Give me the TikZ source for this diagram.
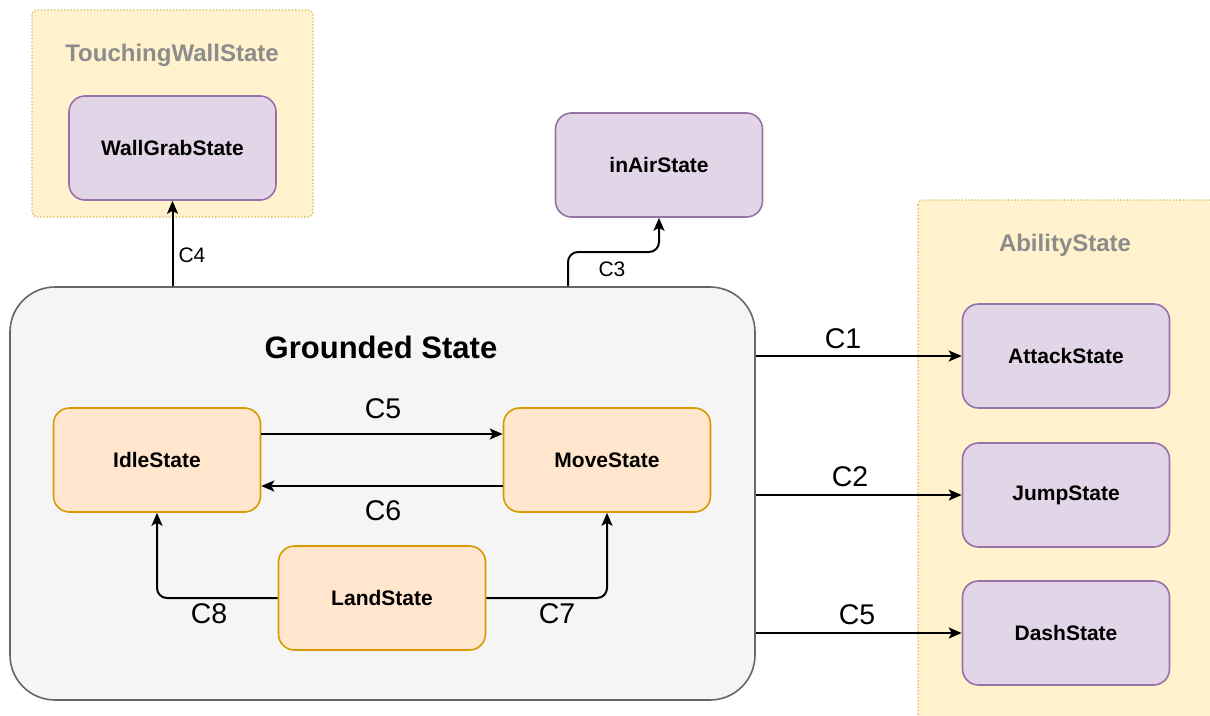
\documentclass[tikz,border=0pt]{standalone}
\usepackage{fontspec}
\setmainfont{Liberation Sans}
\usetikzlibrary{arrows.meta}
\definecolor{contfill}{HTML}{FFF2CC}
\definecolor{contdraw}{HTML}{D6B656}
\definecolor{purfill}{HTML}{E1D5E7}
\definecolor{purdraw}{HTML}{9673A6}
\definecolor{orfill}{HTML}{FFE6CC}
\definecolor{ordraw}{HTML}{D79B00}
\definecolor{grfill}{HTML}{F5F5F5}
\definecolor{grdraw}{HTML}{666666}
\definecolor{conttext}{HTML}{8C8C8C}
\tikzset{
  container/.style={draw=contdraw, fill=contfill, dotted, line width=1.3pt, rounded corners=5pt},
  contlabel/.style={text=conttext, font=\fontsize{24}{27}\selectfont\bfseries, inner sep=0pt},
  purbox/.style={draw=purdraw, fill=purfill, line width=1.6pt, rounded corners=16pt, minimum width=207pt, minimum height=104pt, inner sep=0pt, font=\fontsize{21}{24}\selectfont\bfseries},
  orbox/.style={draw=ordraw, fill=orfill, line width=1.6pt, rounded corners=16pt, minimum width=207pt, minimum height=104pt, inner sep=0pt, font=\fontsize{21}{24}\selectfont\bfseries},
  groundbox/.style={draw=grdraw, fill=grfill, line width=1.6pt, rounded corners=45pt, minimum width=745pt, minimum height=413pt, inner sep=0pt},
  arr/.style={-{Stealth[length=13pt,width=11pt,inset=3pt]}, line width=2pt, rounded corners=10pt},
  lbl/.style={inner sep=0pt, font=\fontsize{28.5}{32}\selectfont},
  slbl/.style={inner sep=0pt, font=\fontsize{21}{24}\selectfont},
}
\begin{document}
\begin{tikzpicture}[x=1pt,y=-1pt]
\clip (0,0) rectangle (1210,715);
\fill[white] (0,0) rectangle (1210,715);
% containers
\path[container] (32,10) rectangle (313,217);
\node[contlabel] (twlabel) at (172,55) {TouchingWallState};
\path[container] (918,200) rectangle (1225,730);
\node[contlabel] (ablabel) at (1065,245) {AbilityState};
% grounded
\node[groundbox] (ground) at (382.5,493.5) {};
\node[inner sep=0pt, font=\fontsize{31}{35}\selectfont\bfseries] (gtitle) at (381,347) {Grounded State};
% nodes
\node[purbox] (wall) at (172.5,148) {WallGrabState};
\node[purbox] (air) at (659,165) {inAirState};
\node[purbox] (attack) at (1066,356) {AttackState};
\node[purbox] (jump) at (1066,495) {JumpState};
\node[purbox] (dash) at (1066,633) {DashState};
\node[orbox] (idle) at (157,460) {IdleState};
\node[orbox] (move) at (607,460) {MoveState};
\node[orbox] (land) at (382,598) {LandState};
% connectors
\draw[arr] (wall.south |- ground.north) -- (wall.south);
\node[slbl] (lc4) at (192,255) {C4};
\draw[arr] ([xshift=-91pt]air.south |- ground.north) -- ([xshift=-91pt]air.south |- 0,252) -- (air.south |- 0,252) -- (air.south);
\node[slbl] (lc3) at (612,269) {C3};
\draw[arr] (ground.east |- attack.west) -- (attack.west);
\node[lbl] (lc1) at (843,339) {C1};
\draw[arr] (ground.east |- jump.west) -- (jump.west);
\node[lbl] (lc2) at (850,477) {C2};
\draw[arr] (ground.east |- dash.west) -- (dash.west);
\node[lbl] (lc5b) at (857,615) {C5};
\draw[arr] ([yshift=26pt]idle.east) -- ([yshift=26pt]idle.east -| move.west);
\node[lbl] (lc5) at (383,409) {C5};
\draw[arr] ([yshift=-26pt]move.west) -- ([yshift=-26pt]move.west -| idle.east);
\node[lbl] (lc6) at (383,511) {C6};
\draw[arr] (land.west) -- (idle.south |- land.west) -- (idle.south);
\node[lbl] (lc8) at (209,614) {C8};
\draw[arr] (land.east) -- (move.south |- land.east) -- (move.south);
\node[lbl] (lc7) at (557,614) {C7};
\end{tikzpicture}
\end{document}
